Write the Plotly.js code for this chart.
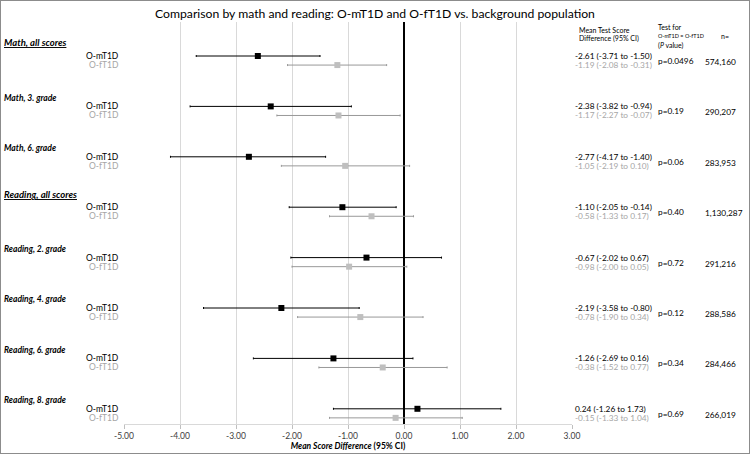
<!DOCTYPE html>
<html><head><meta charset="utf-8">
<script src="https://cdn.plot.ly/plotly-3.0.1.min.js"></script>
<style>html,body{margin:0;padding:0;background:#fff}#wrap{position:relative;width:750px;height:456px}#chart{width:750px;height:456px}#frame{position:absolute;left:0;top:0;width:748px;height:452px;border:1px solid #8c8c8c;pointer-events:none}</style>
</head><body>
<div id="wrap"><div id="chart"></div><div id="frame"></div></div>
<script>
const groups = ["Math, all scores","Math, 3. grade","Math, 6. grade","Reading, all scores","Reading, 2. grade","Reading, 4. grade","Reading, 6. grade","Reading, 8. grade"];
const mEst = [-2.61,-2.38,-2.77,-1.10,-0.67,-2.19,-1.26,0.24];
const mLo  = [-3.71,-3.82,-4.17,-2.05,-2.02,-3.58,-2.69,-1.26];
const mHi  = [-1.50,-0.94,-1.40,-0.14,0.67,-0.80,0.16,1.73];
const fEst = [-1.19,-1.17,-1.05,-0.58,-0.98,-0.78,-0.38,-0.15];
const fLo  = [-2.08,-2.27,-2.19,-1.33,-2.00,-1.90,-1.52,-1.33];
const fHi  = [-0.31,-0.07,0.10,0.17,0.05,0.34,0.77,1.04];
const pVals = ["p=0.0496","p=0.19","p=0.06","p=0.40","p=0.72","p=0.12","p=0.34","p=0.69"];
const nVals = ["574,160","290,207","283,953","1,130,287","291,216","288,586","284,466","266,019"];
const seriesNames = ["O-mT1D","O-fT1D"];
const xTicks = [-5,-4,-3,-2,-1,0,1,2,3];

const FONT = "Lato, 'Open Sans', sans-serif";
const BLACK = "#000000", GRAY = "#a6a6a6", GRAYBAR = "#999999", GRAYMK = "#bfbfbf";
const fOff = 0.18;
const yM = groups.map((g,i)=>i);
const yF = groups.map((g,i)=>i+fOff);

const traces = [
  {x:mEst, y:yM, type:'scatter', mode:'markers', name:seriesNames[0],
   marker:{symbol:'square', size:6, color:BLACK},
   error_x:{type:'data', symmetric:false, array:mHi.map((h,i)=>h-mEst[i]), arrayminus:mEst.map((v,i)=>v-mLo[i]), color:BLACK, thickness:1, width:1}},
  {x:fEst, y:yF, type:'scatter', mode:'markers', name:seriesNames[1],
   marker:{symbol:'square', size:6, color:GRAYMK},
   error_x:{type:'data', symmetric:false, array:fHi.map((h,i)=>h-fEst[i]), arrayminus:fEst.map((v,i)=>v-fLo[i]), color:GRAYBAR, thickness:1, width:1}}
];

const L=124, R=572;
const px = p => (p-L)/(R-L);
const fmt = v => v.toFixed(2);
const ann = [];
groups.forEach((g,i)=>{
  const all = g.indexOf("all scores")>=0;
  ann.push({xref:'paper', yref:'y', x:px(2), y:i-(all?0.26:0.17), xanchor:'left', yanchor:'middle', showarrow:false,
    text: all?('<b><i><u>'+g+'</u></i></b>'):('<b><i>'+g+'</i></b>'), font:{family:FONT, size:all?9.5:8.5, color:'#000'}});
  ann.push({xref:'paper', yref:'y', x:px(121), y:yM[i], xanchor:'right', yanchor:'middle', showarrow:false,
    text:seriesNames[0], font:{family:FONT, size:8.5, color:'#000'}});
  ann.push({xref:'paper', yref:'y', x:px(121), y:yF[i], xanchor:'right', yanchor:'middle', showarrow:false,
    text:seriesNames[1], font:{family:FONT, size:8.5, color:GRAY}});
  ann.push({xref:'paper', yref:'y', x:px(573), y:yM[i], xanchor:'left', yanchor:'middle', showarrow:false,
    text:fmt(mEst[i])+' ('+fmt(mLo[i])+' to '+fmt(mHi[i])+')', font:{family:FONT, size:8.3, color:'#000'}});
  ann.push({xref:'paper', yref:'y', x:px(573), y:yF[i], xanchor:'left', yanchor:'middle', showarrow:false,
    text:fmt(fEst[i])+' ('+fmt(fLo[i])+' to '+fmt(fHi[i])+')', font:{family:FONT, size:8.3, color:GRAY}});
  ann.push({xref:'paper', yref:'y', x:px(656), y:i+0.1, xanchor:'left', yanchor:'middle', showarrow:false,
    text:pVals[i], font:{family:FONT, size:8.3, color:'#000'}});
  ann.push({xref:'paper', yref:'y', x:px(703), y:i+0.12, xanchor:'left', yanchor:'middle', showarrow:false,
    text:nVals[i], font:{family:FONT, size:8.3, color:'#000'}});
});
// column headers
ann.push({xref:'paper', yref:'paper', x:px(577), y:1-(30-22)/402, xanchor:'left', yanchor:'middle', showarrow:false, text:'Mean Test Score', font:{family:FONT, size:7, color:'#000'}});
ann.push({xref:'paper', yref:'paper', x:px(577), y:1-(39-22)/402, xanchor:'left', yanchor:'middle', showarrow:false, text:'Difference (95% CI)', font:{family:FONT, size:7, color:'#000'}});
ann.push({xref:'paper', yref:'paper', x:px(656), y:1-(27-22)/402, xanchor:'left', yanchor:'middle', showarrow:false, text:'Test for', font:{family:FONT, size:7, color:'#000'}});
ann.push({xref:'paper', yref:'paper', x:px(656), y:1-(36-22)/402, xanchor:'left', yanchor:'middle', showarrow:false, text:'O-mT1D = O-fT1D', font:{family:FONT, size:5.5, color:'#000'}});
ann.push({xref:'paper', yref:'paper', x:px(656), y:1-(45-22)/402, xanchor:'left', yanchor:'middle', showarrow:false, text:'(<i>P</i> value)', font:{family:FONT, size:7, color:'#000'}});
ann.push({xref:'paper', yref:'paper', x:px(719), y:1-(36-22)/402, xanchor:'left', yanchor:'middle', showarrow:false, text:'n=', font:{family:FONT, size:7, color:'#000'}});

const layout = {
  width:750, height:456,
  margin:{l:L, r:750-R, t:22, b:32, pad:0},
  paper_bgcolor:'#fff', plot_bgcolor:'#fff',
  showlegend:false,
  title:{text:'Comparison by math and reading: O-mT1D and O-fT1D vs. background population', font:{family:FONT, size:12.2, color:'#000'}, x:0.5, xanchor:'center', y:1-14/456, yanchor:'middle'},
  xaxis:{range:[-5,3], tickvals:xTicks, ticktext:xTicks.map(v=>v.toFixed(2)), showgrid:true, gridcolor:'#d9d9d9', gridwidth:1,
    zeroline:true, zerolinecolor:'#000', zerolinewidth:1.2, showline:true, linecolor:'#d9d9d9', linewidth:1,
    ticks:'outside', ticklen:4, tickcolor:'#bfbfbf', tickfont:{family:FONT, size:8.5, color:'#404040'},
    title:{text:'<b><i>Mean Score Difference</i> (95% CI)</b>', font:{family:FONT, size:8.5, color:'#000'}, standoff:2}},
  yaxis:{range:[(424-56)/50.4, (22-56)/50.4], showgrid:false, zeroline:false, showticklabels:false, ticks:'', showline:false},
  annotations:ann
};
Plotly.newPlot('chart', traces, layout, {displayModeBar:false, staticPlot:true});
</script>
</body></html>
